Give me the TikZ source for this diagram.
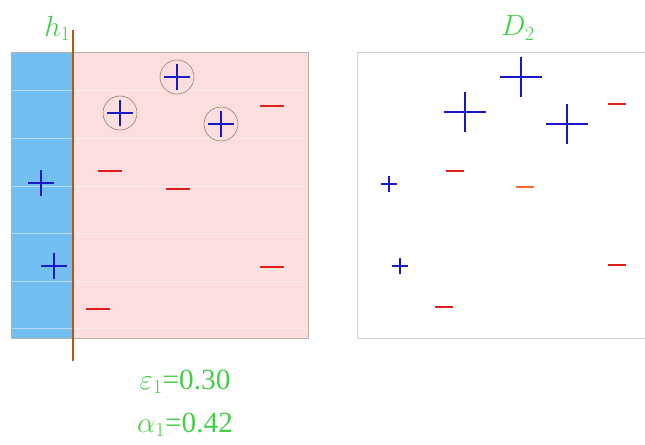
\documentclass[tikz,border=0pt]{standalone}
\usepackage{fontspec}
\setmainfont{Liberation Serif}
\usepackage{amsmath}
\usepackage{tikz}
\usetikzlibrary{calc}
\definecolor{skyblue}{RGB}{114,190,240}
\definecolor{palepink}{RGB}{252,222,222}
\definecolor{labgreen}{RGB}{70,205,70}
\definecolor{hbrown}{RGB}{180,90,25}
\definecolor{ptblue}{RGB}{25,25,200}
\definecolor{ptred}{RGB}{225,30,30}
\tikzset{
  lab/.style={text=labgreen, font=\fontsize{27}{30}\selectfont, inner sep=1pt},
  plusmark/.style={ptblue, line width=1.8pt},
  minusmark/.style={ptred, line width=1.8pt},
}

\begin{document}
\begin{tikzpicture}[x=0.03cm,y=-0.03cm]
\useasboundingbox (0,0) rectangle (645,444);
% left panel
\fill[palepink] (73,52) rectangle (308,338);
\fill[skyblue] (11,52) rectangle (73,338);
\foreach \y in {90,138,186,233,281,328} {
  \draw[white, opacity=.5, line width=.4pt] (11,\y) -- (73,\y);
  \draw[white, opacity=.4, line width=.4pt] (73,\y) -- (308,\y);
};
\draw[gray!60, line width=.6pt] (11,52) rectangle (308,338);
\draw[hbrown, line width=2.4pt] (73,30) -- (73,361);
\node[lab, anchor=south east] (h1) at (72,42) {$h_1$};
% circled plus
\foreach \x/\y in {120/113, 177/77, 221/124} {
  \draw[gray!70!brown, line width=.5pt] (\x,\y) circle (17);
  \draw[plusmark] (\x-13,\y) -- (\x+13,\y) (\x,\y-13) -- (\x,\y+13);
};
\foreach \x/\y in {41/183, 54/266} {
  \draw[plusmark] (\x-13,\y) -- (\x+13,\y) (\x,\y-13) -- (\x,\y+13);
};
\foreach \x/\y in {110/171, 178/189, 272/106, 272/267, 98/309} {
  \draw[minusmark] (\x-12,\y) -- (\x+12,\y);
};
% right panel
\draw[gray!35, line width=.8pt] (645,52) -- (357,52) -- (357,338) -- (645,338);
\node[lab] (d2) at (518,28) {$D_2$};
\foreach \x/\y in {465/112, 521/77, 567/124} {
  \draw[plusmark] (\x-21,\y) -- (\x+21,\y) (\x,\y-20) -- (\x,\y+20);
};
\foreach \x/\y in {389/184, 400/266} {
  \draw[plusmark, line width=1.4pt] (\x-8,\y) -- (\x+8,\y) (\x,\y-8) -- (\x,\y+8);
};
\foreach \x/\y in {617/104, 455/171, 617/265, 444/307} {
  \draw[minusmark, line width=1.7pt] (\x-9,\y) -- (\x+9,\y);
};
\draw[minusmark, line width=1.4pt, red!50!orange!80] (516,187) -- (534,187);
% weights
\node[lab, font=\fontsize{25}{28}\selectfont] (eps) at (185,382) {$\varepsilon_1$=0.30};
\node[lab, font=\fontsize{25}{28}\selectfont] (alp) at (185,425) {$\alpha_1$=0.42};
\end{tikzpicture}
\end{document}
